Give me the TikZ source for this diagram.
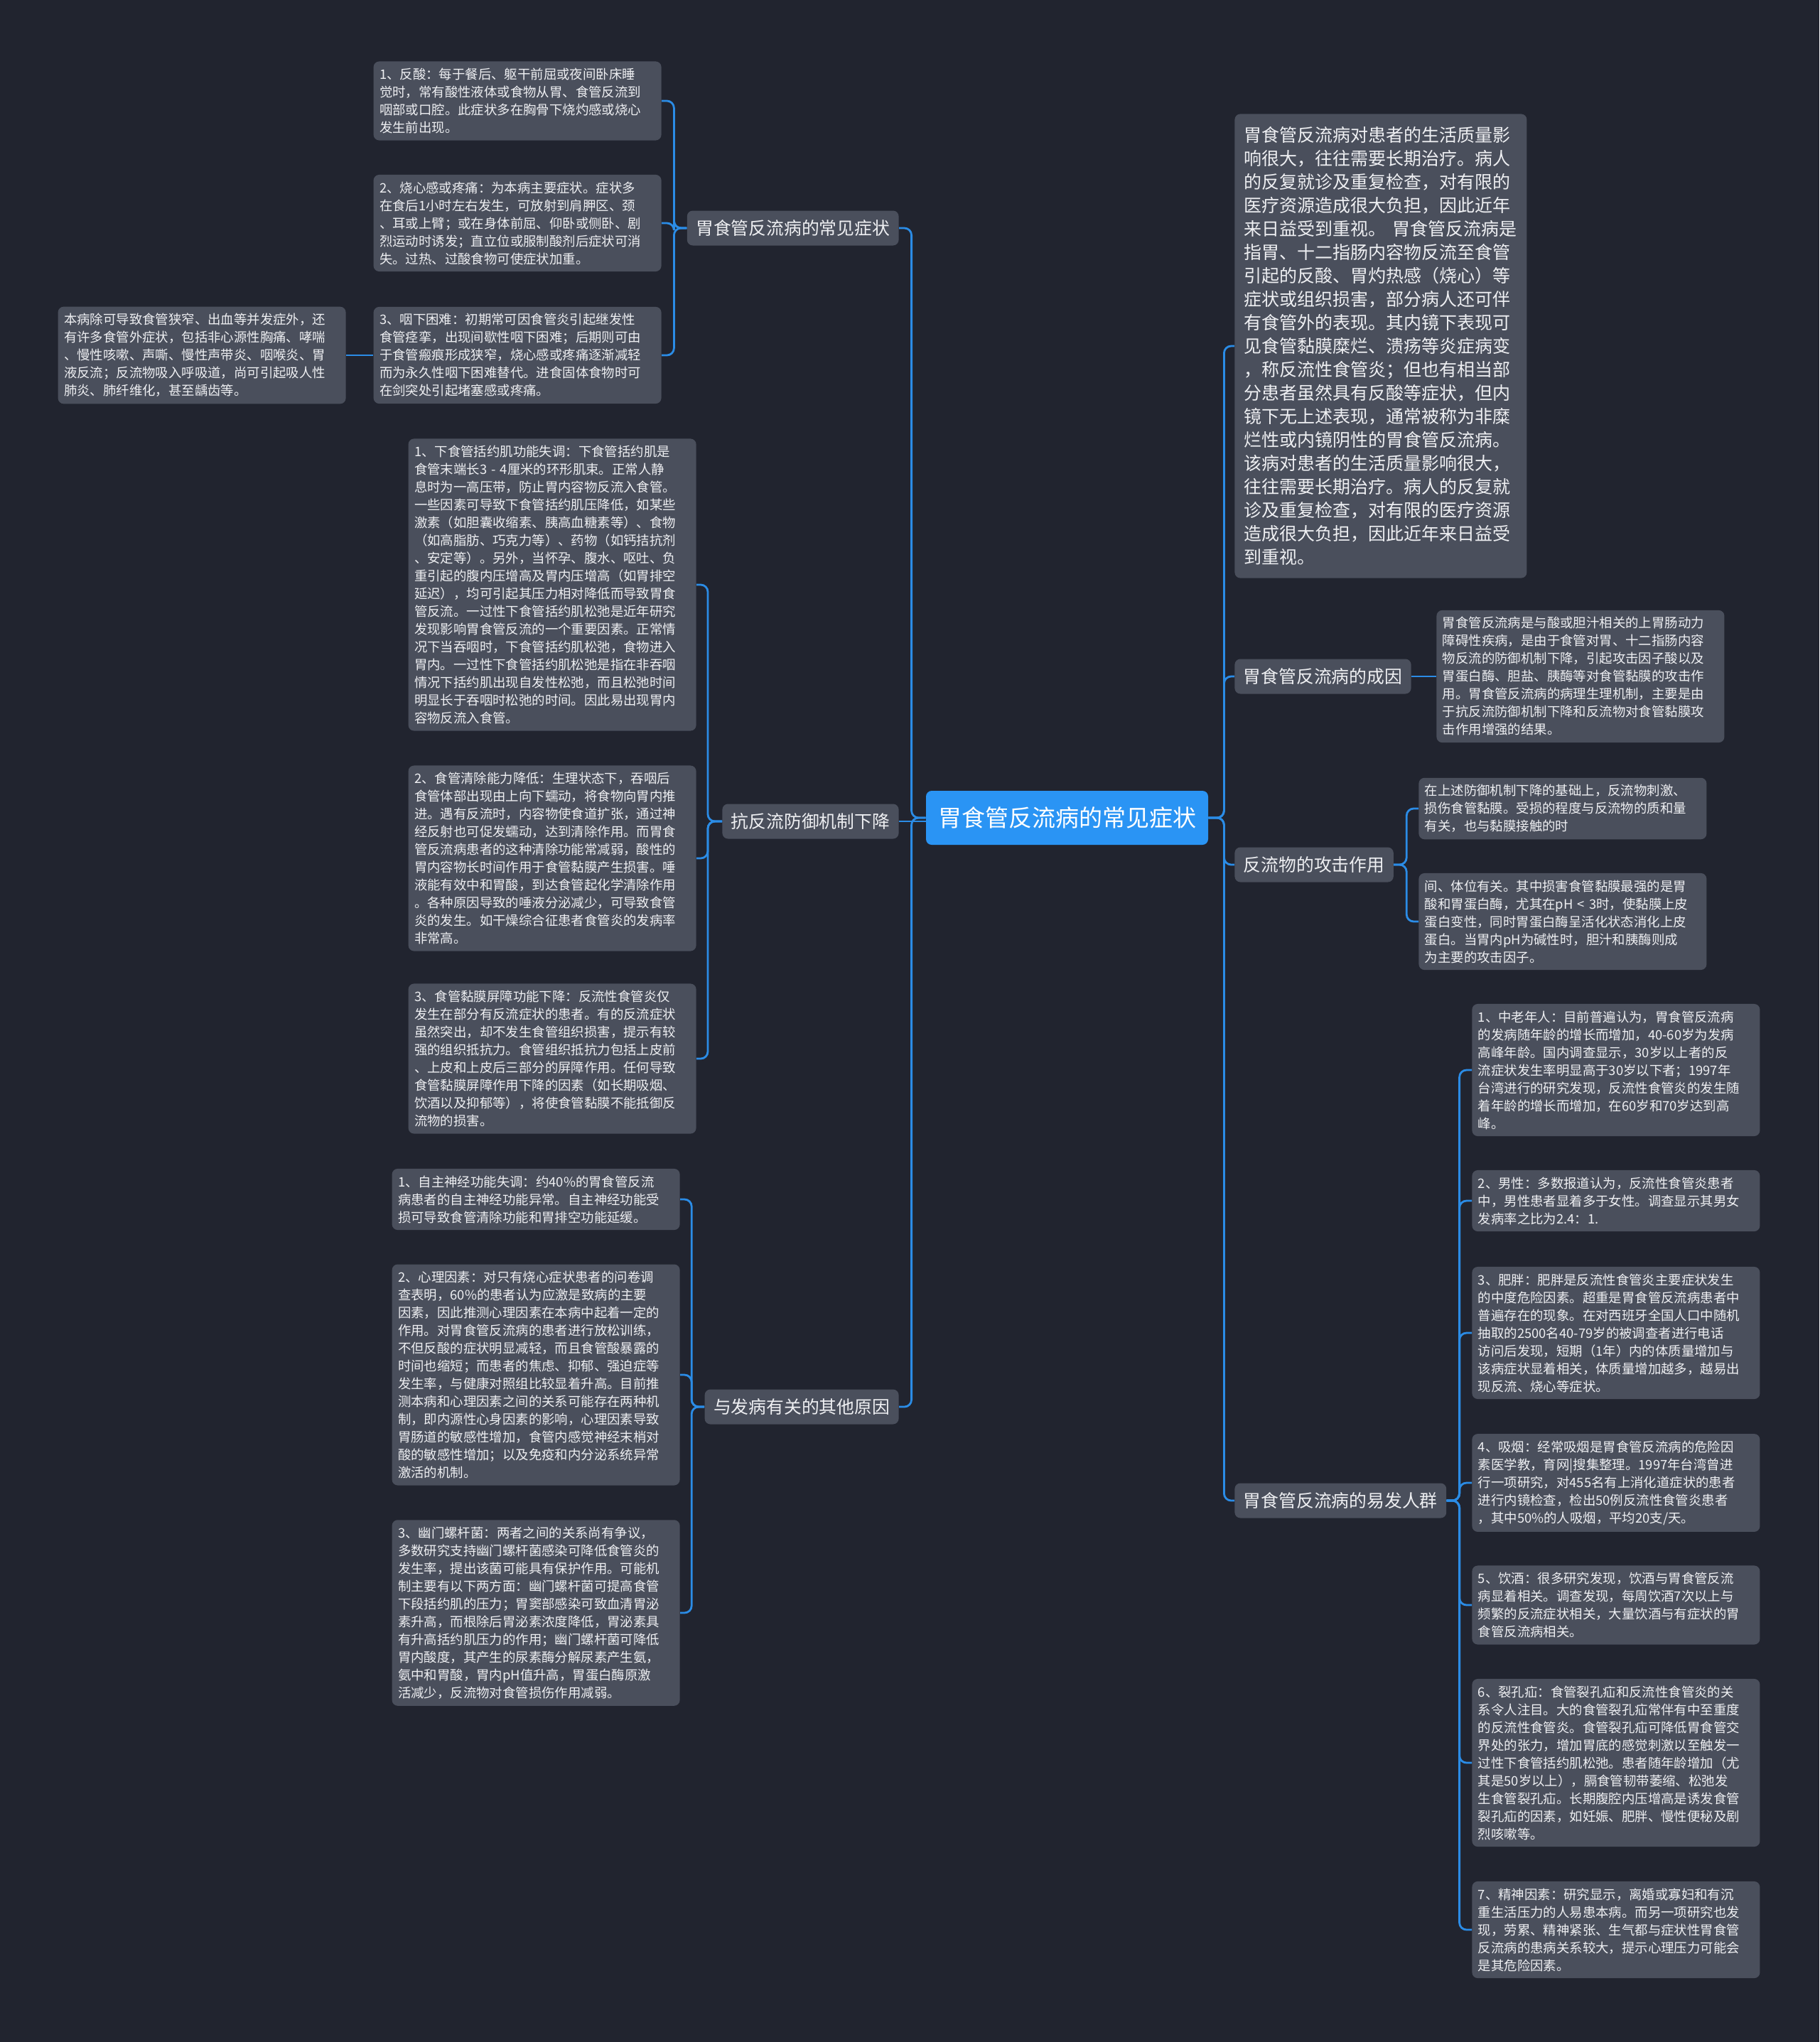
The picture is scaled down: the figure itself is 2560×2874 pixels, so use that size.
\documentclass[tikz,border=0pt]{standalone}
\usepackage{fontspec}
\setmainfont{Noto Sans CJK SC}
\definecolor{bgc}{HTML}{21242F}
\definecolor{boxc}{HTML}{4A4F5C}
\definecolor{txtc}{HTML}{EEEFF2}
\definecolor{linec}{HTML}{2B8CE6}
\definecolor{mainc}{HTML}{2A94F4}
\tikzset{
  leaf/.style={fill=boxc, rounded corners=4pt, text=txtc, align=left, text width=194pt,
    inner xsep=4.25pt, inner ysep=4.75pt, font=\fontsize{9.2pt}{12.5pt}\selectfont},
  bigleaf/.style={fill=boxc, rounded corners=4pt, text=txtc, align=left, text width=192pt,
    inner xsep=6.75pt, inner ysep=9pt, font=\fontsize{12.5pt}{16.5pt}\selectfont},
  topic/.style={fill=boxc, rounded corners=4pt, text=txtc, inner xsep=6.25pt, inner ysep=0pt,
    minimum height=24.5pt, font=\fontsize{12.4pt}{14pt}\selectfont},
  maintopic/.style={fill=mainc, rounded corners=4pt, text=white, inner xsep=8.5pt, inner ysep=0pt,
    minimum height=38pt, font=\fontsize{16.5pt}{18pt}\selectfont},
  conn/.style={draw=linec, line width=1.4pt, rounded corners=5pt}
}
\begin{document}
\begin{tikzpicture}[x=0.5pt,y=-0.5pt]
\path[use as bounding box, fill=bgc] (0,0) rectangle (2560,2874);

% center
\node[maintopic] (c) at (1501.5,1151) {胃食管反流病的常见症状};

% left topics
\node[topic, anchor=east] (s1) at (1265,321) {胃食管反流病的常见症状};
\node[topic, anchor=east] (s2) at (1265,1156) {抗反流防御机制下降};
\node[topic, anchor=east] (s3) at (1265,1980) {与发病有关的其他原因};

% right topics
\node[bigleaf, anchor=west] (r1) at (1737,487) {胃食管反流病对患者的生活质量影\\
响很大，往往需要长期治疗。病人\\
的反复就诊及重复检查，对有限的\\
医疗资源造成很大负担，因此近年\\
来日益受到重视。~胃食管反流病是\\
指胃、十二指肠内容物反流至食管\\
引起的反酸、胃灼热感（烧心）等\\
症状或组织损害，部分病人还可伴\\
有食管外的表现。其内镜下表现可\\
见食管黏膜糜烂、溃疡等炎症病变\\
，称反流性食管炎；但也有相当部\\
分患者虽然具有反酸等症状，但内\\
镜下无上述表现，通常被称为非糜\\
烂性或内镜阴性的胃食管反流病。\\
该病对患者的生活质量影响很大，\\
往往需要长期治疗。病人的反复就\\
诊及重复检查，对有限的医疗资源\\
造成很大负担，因此近年来日益受\\
到重视。};
\node[topic, anchor=west] (r2) at (1737,952) {胃食管反流病的成因};
\node[topic, anchor=west] (r3) at (1737,1217) {反流物的攻击作用};
\node[topic, anchor=west] (r4) at (1737,2112) {胃食管反流病的易发人群};

% leaves of s1
\node[leaf, anchor=east] (l1) at (931,142) {1、反酸：每于餐后、躯干前屈或夜间卧床睡\\
觉时，常有酸性液体或食物从胃、食管反流到\\
咽部或口腔。此症状多在胸骨下烧灼感或烧心\\
发生前出现。};
\node[leaf, anchor=east] (l2) at (931,314) {2、烧心感或疼痛：为本病主要症状。症状多\\
在食后1小时左右发生，可放射到肩胛区、颈\\
、耳或上臂；或在身体前屈、仰卧或侧卧、剧\\
烈运动时诱发；直立位或服制酸剂后症状可消\\
失。过热、过酸食物可使症状加重。};
\node[leaf, anchor=east] (l3) at (931,500) {3、咽下困难：初期常可因食管炎引起继发性\\
食管痉挛，出现间歇性咽下困难；后期则可由\\
于食管瘢痕形成狭窄，烧心感或疼痛逐渐减轻\\
而为永久性咽下困难替代。进食固体食物时可\\
在剑突处引起堵塞感或疼痛。};
\node[leaf, anchor=east] (fl) at (487,500) {本病除可导致食管狭窄、出血等并发症外，还\\
有许多食管外症状，包括非心源性胸痛、哮喘\\
、慢性咳嗽、声嘶、慢性声带炎、咽喉炎、胃\\
液反流；反流物吸入呼吸道，尚可引起吸人性\\
肺炎、肺纤维化，甚至龋齿等。};

% leaves of s2
\node[leaf, anchor=east] (a1) at (980,823) {1、下食管括约肌功能失调：下食管括约肌是\\
食管末端长3~-~4厘米的环形肌束。正常人静\\
息时为一高压带，防止胃内容物反流入食管。\\
一些因素可导致下食管括约肌压降低，如某些\\
激素（如胆囊收缩素、胰高血糖素等）、食物\\
（如高脂肪、巧克力等）、药物（如钙拮抗剂\\
、安定等）。另外，当怀孕、腹水、呕吐、负\\
重引起的腹内压增高及胃内压增高（如胃排空\\
延迟），均可引起其压力相对降低而导致胃食\\
管反流。一过性下食管括约肌松弛是近年研究\\
发现影响胃食管反流的一个重要因素。正常情\\
况下当吞咽时，下食管括约肌松弛，食物进入\\
胃内。一过性下食管括约肌松弛是指在非吞咽\\
情况下括约肌出现自发性松弛，而且松弛时间\\
明显长于吞咽时松弛的时间。因此易出现胃内\\
容物反流入食管。};
\node[leaf, anchor=east] (a2) at (980,1208) {2、食管清除能力降低：生理状态下，吞咽后\\
食管体部出现由上向下蠕动，将食物向胃内推\\
进。遇有反流时，内容物使食道扩张，通过神\\
经反射也可促发蠕动，达到清除作用。而胃食\\
管反流病患者的这种清除功能常减弱，酸性的\\
胃内容物长时间作用于食管黏膜产生损害。唾\\
液能有效中和胃酸，到达食管起化学清除作用\\
。各种原因导致的唾液分泌减少，可导致食管\\
炎的发生。如干燥综合征患者食管炎的发病率\\
非常高。};
\node[leaf, anchor=east] (a3) at (980,1490) {3、食管黏膜屏障功能下降：反流性食管炎仅\\
发生在部分有反流症状的患者。有的反流症状\\
虽然突出，却不发生食管组织损害，提示有较\\
强的组织抵抗力。食管组织抵抗力包括上皮前\\
、上皮和上皮后三部分的屏障作用。任何导致\\
食管黏膜屏障作用下降的因素（如长期吸烟、\\
饮酒以及抑郁等），将使食管黏膜不能抵御反\\
流物的损害。};

% leaves of s3
\node[leaf, anchor=east] (b1) at (957,1688) {1、自主神经功能失调：约40\%的胃食管反流\\
病患者的自主神经功能异常。自主神经功能受\\
损可导致食管清除功能和胃排空功能延缓。};
\node[leaf, anchor=east] (b2) at (957,1935) {2、心理因素：对只有烧心症状患者的问卷调\\
查表明，60\%的患者认为应激是致病的主要\\
因素，因此推测心理因素在本病中起着一定的\\
作用。对胃食管反流病的患者进行放松训练，\\
不但反酸的症状明显减轻，而且食管酸暴露的\\
时间也缩短；而患者的焦虑、抑郁、强迫症等\\
发生率，与健康对照组比较显着升高。目前推\\
测本病和心理因素之间的关系可能存在两种机\\
制，即内源性心身因素的影响，心理因素导致\\
胃肠道的敏感性增加，食管内感觉神经末梢对\\
酸的敏感性增加；以及免疫和内分泌系统异常\\
激活的机制。};
\node[leaf, anchor=east] (b3) at (957,2270) {3、幽门螺杆菌：两者之间的关系尚有争议，\\
多数研究支持幽门螺杆菌感染可降低食管炎的\\
发生率，提出该菌可能具有保护作用。可能机\\
制主要有以下两方面：幽门螺杆菌可提高食管\\
下段括约肌的压力；胃窦部感染可致血清胃泌\\
素升高，而根除后胃泌素浓度降低，胃泌素具\\
有升高括约肌压力的作用；幽门螺杆菌可降低\\
胃内酸度，其产生的尿素酶分解尿素产生氨，\\
氨中和胃酸，胃内pH值升高，胃蛋白酶原激\\
活减少，反流物对食管损伤作用减弱。};

% leaf of r2
\node[leaf, anchor=west] (g1) at (2021,952) {胃食管反流病是与酸或胆汁相关的上胃肠动力\\
障碍性疾病，是由于食管对胃、十二指肠内容\\
物反流的防御机制下降，引起攻击因子酸以及\\
胃蛋白酶、胆盐、胰酶等对食管黏膜的攻击作\\
用。胃食管反流病的病理生理机制，主要是由\\
于抗反流防御机制下降和反流物对食管黏膜攻\\
击作用增强的结果。};

% leaves of r3
\node[leaf, anchor=west] (f1) at (1996,1138) {在上述防御机制下降的基础上，反流物刺激、\\
损伤食管黏膜。受损的程度与反流物的质和量\\
有关，也与黏膜接触的时};
\node[leaf, anchor=west] (f2) at (1996,1297) {间、体位有关。其中损害食管黏膜最强的是胃\\
酸和胃蛋白酶，尤其在pH~<~3时，使黏膜上皮\\
蛋白变性，同时胃蛋白酶呈活化状态消化上皮\\
蛋白。当胃内pH为碱性时，胆汁和胰酶则成\\
为主要的攻击因子。};

% leaves of r4
\node[leaf, anchor=west] (e1) at (2071,1506) {1、中老年人：目前普遍认为，胃食管反流病\\
的发病随年龄的增长而增加，40-60岁为发病\\
高峰年龄。国内调查显示，30岁以上者的反\\
流症状发生率明显高于30岁以下者；1997年\\
台湾进行的研究发现，反流性食管炎的发生随\\
着年龄的增长而增加，在60岁和70岁达到高\\
峰。};
\node[leaf, anchor=west] (e2) at (2071,1690) {2、男性：多数报道认为，反流性食管炎患者\\
中，男性患者显着多于女性。调查显示其男女\\
发病率之比为2.4：1.};
\node[leaf, anchor=west] (e3) at (2071,1876) {3、肥胖：肥胖是反流性食管炎主要症状发生\\
的中度危险因素。超重是胃食管反流病患者中\\
普遍存在的现象。在对西班牙全国人口中随机\\
抽取的2500名40-79岁的被调查者进行电话\\
访问后发现，短期（1年）内的体质量增加与\\
该病症状显着相关，体质量增加越多，越易出\\
现反流、烧心等症状。};
\node[leaf, anchor=west] (e4) at (2071,2087) {4、吸烟：经常吸烟是胃食管反流病的危险因\\
素医学教，育网|搜集整理。1997年台湾曾进\\
行一项研究，对455名有上消化道症状的患者\\
进行内镜检查，检出50例反流性食管炎患者\\
，其中50\%的人吸烟，平均20支/天。};
\node[leaf, anchor=west] (e5) at (2071,2259) {5、饮酒：很多研究发现，饮酒与胃食管反流\\
病显着相关。调查发现，每周饮酒7次以上与\\
频繁的反流症状相关，大量饮酒与有症状的胃\\
食管反流病相关。};
\node[leaf, anchor=west] (e6) at (2071,2481) {6、裂孔疝：食管裂孔疝和反流性食管炎的关\\
系令人注目。大的食管裂孔疝常伴有中至重度\\
的反流性食管炎。食管裂孔疝可降低胃食管交\\
界处的张力，增加胃底的感觉刺激以至触发一\\
过性下食管括约肌松弛。患者随年龄增加（尤\\
其是50岁以上），膈食管韧带萎缩、松弛发\\
生食管裂孔疝。长期腹腔内压增高是诱发食管\\
裂孔疝的因素，如妊娠、肥胖、慢性便秘及剧\\
烈咳嗽等。};
\node[leaf, anchor=west] (e7) at (2071,2716) {7、精神因素：研究显示，离婚或寡妇和有沉\\
重生活压力的人易患本病。而另一项研究也发\\
现，劳累、精神紧张、生气都与症状性胃食管\\
反流病的患病关系较大，提示心理压力可能会\\
是其危险因素。};

% connectors: center to topics
\draw[conn] (c.west) -- ++(-20,0) |- (s1.east);
\draw[conn] (c.west |- s2.east) -- (s2.east);
\draw[conn] (c.west) -- ++(-20,0) |- (s3.east);
\draw[conn] (c.east) -- ++(22,0) |- (r1.west);
\draw[conn] (c.east) -- ++(22,0) |- (r2.west);
\draw[conn] (c.east) -- ++(22,0) |- (r3.west);
\draw[conn] (c.east) -- ++(22,0) |- (r4.west);

% s1 leaves
\foreach \n in {l1,l2,l3} \draw[conn] (s1.west) -- ++(-18,0) |- (\n.east);
\draw[conn] (l3.west) -- (fl.east);
% s2 leaves
\foreach \n in {a1,a2,a3} \draw[conn] (s2.west) -- ++(-20,0) |- (\n.east);
% s3 leaves
\foreach \n in {b1,b2,b3} \draw[conn] (s3.west) -- ++(-18,0) |- (\n.east);
% r2 leaf
\draw[conn] (r2.east) -- (g1.west);
% r3 leaves
\foreach \n in {f1,f2} \draw[conn] (r3.east) -- ++(18,0) |- (\n.west);
% r4 leaves
\foreach \n in {e1,e2,e3,e4,e5,e6,e7} \draw[conn] (r4.east) -- ++(18,0) |- (\n.west);
\end{tikzpicture}
\end{document}
